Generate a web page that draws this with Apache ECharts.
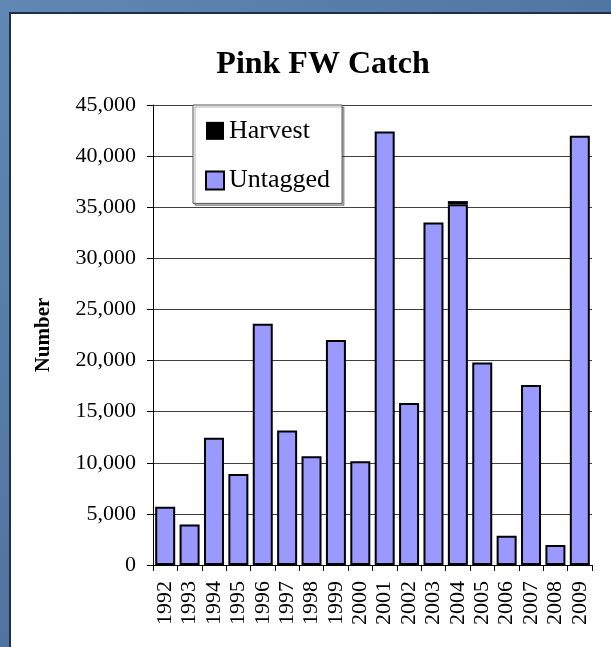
<!DOCTYPE html>
<html>
<head>
    <title>Pink FW Catch</title>
    <script src="https://cdn.jsdelivr.net/npm/echarts@6/dist/echarts.min.js"></script>
    <style>
        body { margin: 0; }
    </style>
</head>
<body>

<div id="pinkCatch" style="width: 611px;height:647px;"></div>

<script type="text/javascript">
    var years = ['1992', '1993', '1994', '1995', '1996', '1997', '1998', '1999', '2000',
                 '2001', '2002', '2003', '2004', '2005', '2006', '2007', '2008', '2009'];
    var untagged = [5700, 3950, 12450, 8900, 23600, 13150, 10650, 22000, 10150,
                    42400, 15850, 33500, 35300, 19800, 2850, 17600, 1950, 42000];
    var harvest = [0, 0, 0, 0, 0, 0, 0, 0, 0,
                   0, 0, 0, 300, 0, 0, 0, 0, 0];
    var yTicks = [0, 5000, 10000, 15000, 20000, 25000, 30000, 35000, 40000, 45000];

    var serif = "'Liberation Serif', 'Times New Roman', serif";
    var chart = echarts.init(document.getElementById('pinkCatch'));

    chart.setOption({
        animation: false,
        backgroundColor: {
            type: 'linear', x: 0, y: 0, x2: 1, y2: 1,
            colorStops: [
                {offset: 0, color: '#6088b3'},
                {offset: 1, color: '#3f628e'}
            ]
        },
        graphic: [{
            type: 'rect',
            z: -10,
            shape: {x: 10, y: 13, width: 620, height: 660},
            style: {fill: '#ffffff', stroke: '#1d2f4a', lineWidth: 2}
        }],
        title: {
            text: 'Pink FW Catch',
            left: 318,
            textAlign: 'center',
            top: 34,
            textStyle: {
                fontFamily: serif,
                fontSize: 32,
                fontWeight: 'bold',
                color: '#000'
            }
        },
        legend: {
            data: ['Harvest', 'Untagged'],
            orient: 'vertical',
            left: 193,
            top: 105,
            padding: [6, 12, 3, 12],
            itemGap: 10,
            itemWidth: 18,
            itemHeight: 18,
            icon: 'rect',
            backgroundColor: '#fff',
            borderColor: '#555',
            borderWidth: 1,
            borderRadius: 0,
            shadowColor: 'rgba(0,0,0,0.3)',
            shadowOffsetX: 2,
            shadowOffsetY: 2,
            shadowBlur: 0,
            textStyle: {
                fontFamily: serif,
                fontSize: 26,
                color: '#000'
            }
        },
        grid: {
            left: 153,
            right: 19,
            top: 105,
            bottom: 82
        },
        xAxis: {
            type: 'category',
            data: years,
            axisLine: {lineStyle: {color: '#000', width: 1}},
            axisTick: {show: true, length: 6, lineStyle: {color: '#000'}},
            axisLabel: {
                rotate: 90,
                margin: 16,
                interval: 0,
                fontFamily: serif,
                fontSize: 22,
                color: '#000'
            }
        },
        yAxis: {
            type: 'value',
            min: yTicks[0],
            max: yTicks[yTicks.length - 1],
            interval: yTicks[1] - yTicks[0],
            name: 'Number',
            nameLocation: 'middle',
            nameRotate: 90,
            nameGap: 93,
            nameTextStyle: {
                fontFamily: serif,
                fontSize: 21,
                fontWeight: 'bold',
                color: '#000'
            },
            axisLine: {show: true, lineStyle: {color: '#000', width: 1}},
            axisTick: {show: true, length: 6, lineStyle: {color: '#000'}},
            splitLine: {lineStyle: {color: '#404040', width: 1}},
            axisLabel: {
                margin: 17,
                fontFamily: serif,
                fontSize: 22,
                color: '#000',
                formatter: function (v) {
                    return v.toLocaleString('en-US');
                }
            }
        },
        series: [{
            name: 'Untagged',
            type: 'bar',
            stack: 'catch',
            data: untagged,
            barCategoryGap: '18%',
            itemStyle: {color: '#9999ff', borderColor: '#000', borderWidth: 2}
        }, {
            name: 'Harvest',
            type: 'bar',
            stack: 'catch',
            data: harvest,
            itemStyle: {color: '#000', borderWidth: 0}
        }]
    });
</script>
</body>
</html>
